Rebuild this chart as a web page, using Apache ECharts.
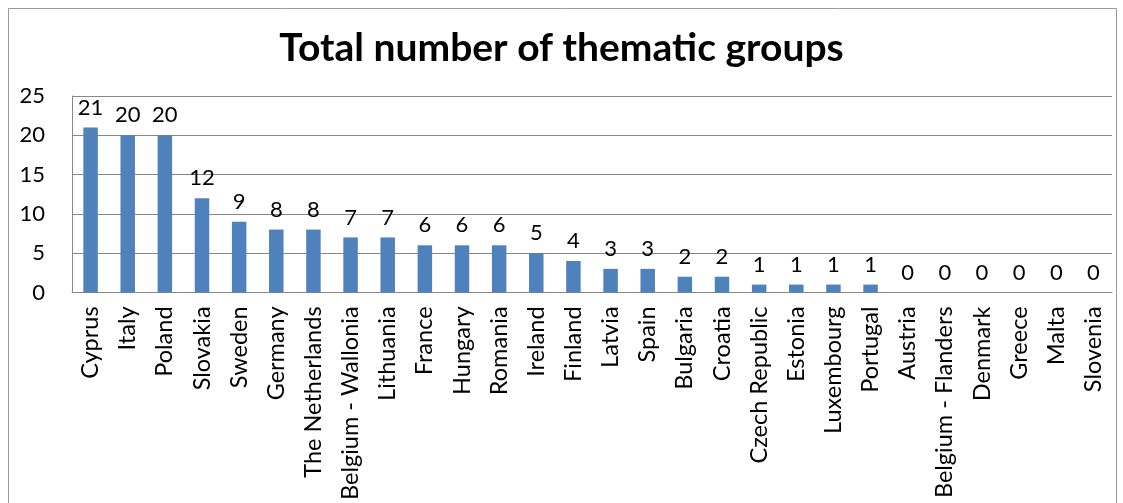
<!DOCTYPE html>
<html><head><meta charset="utf-8">
<script src="https://cdn.jsdelivr.net/npm/echarts@6/dist/echarts.min.js"></script>
<style>html,body{margin:0;padding:0;background:#fff}#c{width:1123px;height:503px}</style>
</head><body><div id="c"></div>
<script>
const categories = ["Cyprus","Italy","Poland","Slovakia","Sweden","Germany","The Netherlands","Belgium - Wallonia","Lithuania","France","Hungary","Romania","Ireland","Finland","Latvia","Spain","Bulgaria","Croatia","Czech Republic","Estonia","Luxembourg","Portugal","Austria","Belgium - Flanders","Denmark","Greece","Malta","Slovenia"];
const values = [21,20,20,12,9,8,8,7,7,6,6,6,5,4,3,3,2,2,1,1,1,1,0,0,0,0,0,0];
const yTicks = [0,5,10,15,20,25];
const font = "Lato, 'Open Sans', sans-serif";
const chart = echarts.init(document.getElementById('c'));
chart.setOption({
  animation: false,
  title: {text: 'Total number of thematic groups', left: 'center', top: 24,
    textStyle: {fontFamily: font, fontWeight: 'bold', fontSize: 39, color: '#000'}},
  graphic: [{type: 'rect', shape: {x: 8.5, y: 8.5, width: 1108, height: 520},
    style: {fill: 'none', stroke: '#999', lineWidth: 1}, silent: true}],
  grid: {left: 72, right: 11, top: 96, bottom: 209, containLabel: false},
  xAxis: {type: 'category', data: categories,
    axisLine: {show: true, lineStyle: {color: '#888'}},
    axisTick: {show: false},
    axisLabel: {rotate: 90, interval: 0, fontFamily: font, fontSize: 23.5, color: '#000', margin: 14}},
  yAxis: {type: 'value', min: yTicks[0], max: yTicks[yTicks.length-1], interval: 5,
    axisLine: {show: true, lineStyle: {color: '#888'}},
    axisTick: {show: false},
    axisLabel: {fontFamily: font, fontSize: 22, color: '#000', margin: 27},
    splitLine: {lineStyle: {color: '#888'}}},
  series: [{type: 'bar', data: values, barWidth: '39%',
    itemStyle: {color: '#4F81BD'},
    label: {show: true, position: 'top', fontFamily: font, fontSize: 22, color: '#000', distance: 9}}]
});
</script></body></html>
